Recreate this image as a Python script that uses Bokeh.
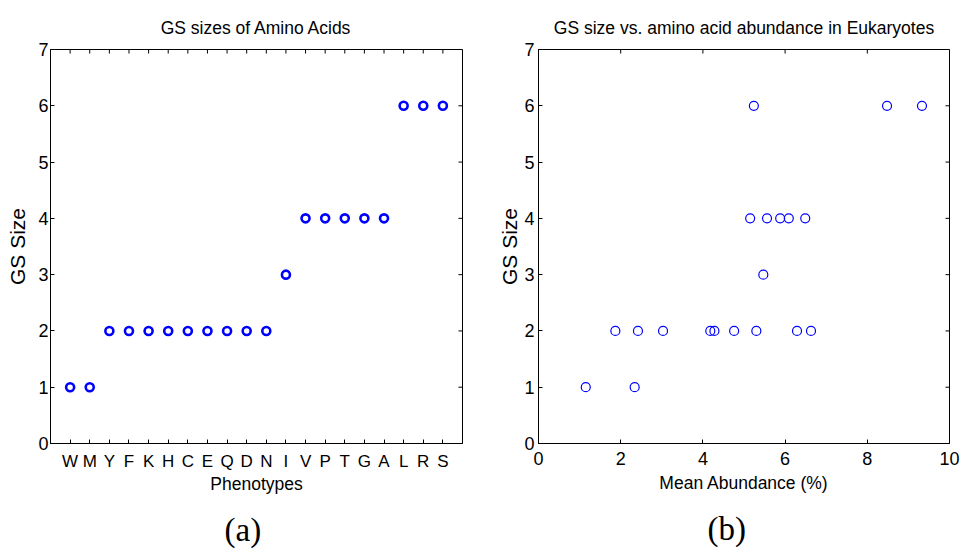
import math
from bokeh.plotting import figure
from bokeh.layouts import row
from bokeh.models import FactorRange, Range1d, FixedTicker, Title, ColumnDataSource
from bokeh.transform import dodge
from bokeh.embed import file_html
from bokeh.resources import INLINE

# ---- data ----
phenotypes = ["W", "M", "Y", "F", "K", "H", "C", "E", "Q", "D",
              "N", "I", "V", "P", "T", "G", "A", "L", "R", "S"]
gs_sizes = [1, 1, 2, 2, 2, 2, 2, 2, 2, 2, 2, 3, 4, 4, 4, 4, 4, 6, 6, 6]

mean_abundance = [5.24, 8.48, 9.33, 5.15, 5.56, 5.88, 6.09, 6.49, 5.47,
                  1.87, 2.42, 3.03, 4.18, 4.28, 4.76, 5.30, 6.29, 6.63,
                  1.15, 2.34]
abundance_gs = [6, 6, 6, 4, 4, 4, 4, 4, 3, 2, 2, 2, 2, 2, 2, 2, 2, 2, 1, 1]

y_ticks = [0, 1, 2, 3, 4, 5, 6, 7]
x_ticks_b = [0, 2, 4, 6, 8, 10]

FONT = "Liberation Sans"
SERIF = "Liberation Serif"
BLUE = "#0000ff"
PAD = 0.5  # factor-range padding on each side


def style_axis(ax, size="18px", standoff=3):
    ax.axis_line_color = "black"
    ax.axis_line_width = 1
    ax.major_tick_line_color = "black"
    ax.major_tick_in = 4
    ax.major_tick_out = 0
    ax.minor_tick_in = 0
    ax.minor_tick_out = 0
    ax.major_label_text_font = FONT
    ax.major_label_text_color = "black"
    ax.major_label_text_font_size = size
    ax.major_label_standoff = standoff
    ax.axis_label_text_font_style = "normal"
    ax.axis_label_text_color = "black"
    ax.axis_label_text_font = FONT


def base_fig(**kw):
    p = figure(output_backend="svg", toolbar_location=None, **kw)
    p.xgrid.visible = False
    p.ygrid.visible = False
    p.outline_line_color = "black"
    p.background_fill_color = "white"
    p.border_fill_color = "white"
    p.title.align = "center"
    p.title.text_font = FONT
    p.title.text_font_size = "17.5px"
    p.title.text_font_style = "normal"
    p.title.text_color = "black"
    p.title.standoff = 24
    return p


def gap_panel():
    # blank panel that only adds vertical room between axis and caption
    return Title(text=" ", standoff=2, text_font=FONT, text_font_size="8px",
                 text_font_style="normal", text_color="white")


def caption(text, offset):
    return Title(text=text, align="left", offset=offset, standoff=0,
                 text_font=SERIF, text_font_size="33px",
                 text_font_style="normal", text_color="black")


# ---- (a) ----
p1 = base_fig(width=480, height=552,
              x_range=FactorRange(factors=phenotypes, range_padding=PAD,
                                  range_padding_units="absolute"),
              y_range=Range1d(0, 7),
              min_border_left=50, min_border_right=18,
              min_border_top=46, min_border_bottom=108,
              title="GS sizes of Amino Acids")
p1.scatter(phenotypes, gs_sizes, marker="circle", size=8, line_width=2.6,
           line_color=BLUE, fill_color=None)
# mirrored ticks on top and right
p1.ray(x=phenotypes, y=[y_ticks[-1]] * len(phenotypes), length=4,
       length_units="screen", angle=-math.pi / 2, line_color="black", line_width=1)
edge_src = ColumnDataSource(dict(x=[phenotypes[-1]] * len(y_ticks), y=y_ticks))
p1.ray(x=dodge("x", 0.5 + PAD, range=p1.x_range), y="y", source=edge_src,
       length=4, length_units="screen", angle=math.pi,
       line_color="black", line_width=1)
p1.yaxis.ticker = FixedTicker(ticks=y_ticks)
style_axis(p1.xaxis[0], size="17px", standoff=8)
style_axis(p1.yaxis[0], size="18px", standoff=2)
p1.xaxis.axis_label = "Phenotypes"
p1.xaxis.axis_label_text_font_size = "17.5px"
p1.xaxis.axis_label_standoff = 0
p1.yaxis.axis_label = "GS Size"
p1.yaxis.axis_label_text_font_size = "21px"
p1.yaxis.axis_label_standoff = 6
p1.add_layout(gap_panel(), "below")
p1.add_layout(caption("(a)", 174), "below")

# ---- (b) ----
p2 = base_fig(width=481, height=552,
              x_range=Range1d(0, 10), y_range=Range1d(0, 7),
              min_border_left=58, min_border_right=12,
              min_border_top=49, min_border_bottom=109,
              title="GS size vs. amino acid abundance in Eukaryotes")
p2.scatter(mean_abundance, abundance_gs, marker="circle", size=9,
           line_width=1.2, line_color=BLUE, fill_color=None)
p2.ray(x=x_ticks_b, y=[y_ticks[-1]] * len(x_ticks_b), length=4,
       length_units="screen", angle=-math.pi / 2, line_color="black", line_width=1)
p2.ray(x=[x_ticks_b[-1]] * len(y_ticks), y=y_ticks, length=4,
       length_units="screen", angle=math.pi, line_color="black", line_width=1)
p2.xaxis.ticker = FixedTicker(ticks=x_ticks_b)
p2.yaxis.ticker = FixedTicker(ticks=y_ticks)
style_axis(p2.xaxis[0], size="18px", standoff=8)
style_axis(p2.yaxis[0], size="18px", standoff=4)
p2.xaxis.axis_label = "Mean Abundance (%)"
p2.xaxis.axis_label_text_font_size = "17.5px"
p2.xaxis.axis_label_standoff = 5
p2.yaxis.axis_label = "GS Size"
p2.yaxis.axis_label_text_font_size = "21px"
p2.yaxis.axis_label_standoff = 0
p2.add_layout(gap_panel(), "below")
p2.add_layout(caption("(b)", 169), "below")

layout = row(p1, p2)
open("out.html", "w").write(file_html(layout, INLINE))
